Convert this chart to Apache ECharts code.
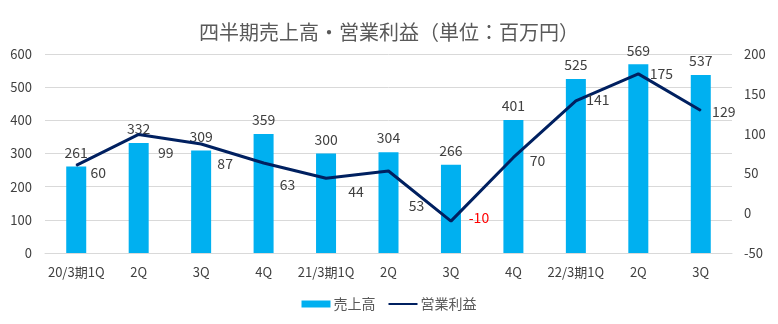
<!DOCTYPE html>
<html>
<head>
<meta charset="utf-8">
<script src="https://cdn.jsdelivr.net/npm/echarts@6/dist/echarts.min.js"></script>
<style>html,body{margin:0;padding:0;background:#fff}#c{width:778px;height:324px}</style>
</head>
<body>
<div id="c"></div>
<script>
var categories = ['20/3期1Q','2Q','3Q','4Q','21/3期1Q','2Q','3Q','4Q','22/3期1Q','2Q','3Q'];
var sales = [261, 332, 309, 359, 300, 304, 266, 401, 525, 569, 537];
var profit = [60, 99, 87, 63, 44, 53, -10, 70, 141, 175, 129];
var leftTicks = {min: 0, max: 600, interval: 100};
var rightTicks = {min: -50, max: 200, interval: 50};
// label placement offsets (style, not data)
var profitLabelOffsets = [[22,7],[27,18],[24,20],[24,22],[30,14],[28,35],[28,-3],[24,3],[22,-1],[23,0],[23,1]];

var FONT = '"Noto Sans CJK JP", "Noto Sans", sans-serif';
var chart = echarts.init(document.getElementById('c'), null, {renderer: 'canvas'});
var profitData = profit.map(function (v, i) {
  return {
    value: v,
    label: {
      offset: profitLabelOffsets[i],
      color: v < 0 ? '#FF0000' : '#404040'
    }
  };
});
chart.setOption({
  animation: false,
  textStyle: {fontFamily: FONT},
  title: {
    text: '四半期売上高・営業利益（単位：百万円）',
    left: 'center',
    top: 17,
    textStyle: {fontFamily: FONT, fontSize: 20, fontWeight: 'normal', color: '#595959'}
  },
  legend: {
    bottom: 8,
    left: 'center',
    itemGap: 12,
    textStyle: {fontFamily: FONT, fontSize: 14, color: '#595959', padding: [0, 0, 0, -2]},
    data: [
      {name: '売上高', icon: 'rect', itemWidth: 24, itemHeight: 7},
      {name: '営業利益', itemStyle: {opacity: 0}}
    ],
    itemWidth: 29,
    itemHeight: 7
  },
  grid: {left: 45, right: 46, top: 54, bottom: 71, containLabel: false},
  xAxis: {
    type: 'category',
    data: categories,
    axisLine: {show: true, lineStyle: {color: '#d9d9d9', width: 1}},
    axisTick: {show: false},
    axisLabel: {color: '#404040', fontSize: 13, margin: 13, fontFamily: FONT, interval: 0}
  },
  yAxis: [
    {
      type: 'value',
      min: leftTicks.min, max: leftTicks.max, interval: leftTicks.interval,
      axisLine: {show: false}, axisTick: {show: false},
      axisLabel: {color: '#404040', fontSize: 13, margin: 13, fontFamily: FONT},
      splitLine: {lineStyle: {color: '#d9d9d9', width: 1}}
    },
    {
      type: 'value',
      min: rightTicks.min, max: rightTicks.max, interval: rightTicks.interval,
      axisLine: {show: false}, axisTick: {show: false},
      axisLabel: {color: '#404040', fontSize: 13, margin: 12, fontFamily: FONT},
      splitLine: {show: false}
    }
  ],
  series: [
    {
      name: '売上高',
      type: 'bar',
      data: sales,
      barWidth: 20,
      itemStyle: {color: '#00B0F0'},
      label: {show: true, position: 'top', distance: 7, color: '#404040', fontSize: 14, fontFamily: FONT}
    },
    {
      name: '営業利益',
      type: 'line',
      yAxisIndex: 1,
      data: profitData,
      symbol: 'circle',
      symbolSize: 1,
      showSymbol: true,
      itemStyle: {color: '#002060'},
      lineStyle: {color: '#002060', width: 3},
      label: {show: true, position: 'inside', color: '#404040', fontSize: 14, fontFamily: FONT}
    }
  ]
});
</script>
</body>
</html>
